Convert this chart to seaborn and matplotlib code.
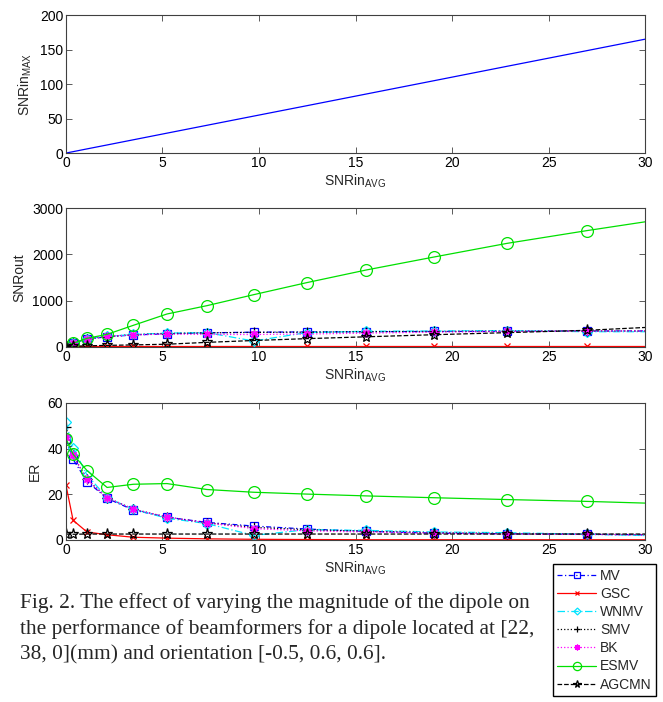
import numpy as np
import pandas as pd
import seaborn as sns
import matplotlib.pyplot as plt

# x positions (SNRin_AVG); last point lies past the axis limit and gets clipped
snr_avg = [0.0, 0.37, 1.09, 2.13, 3.49, 5.23, 7.30, 9.72, 12.46, 15.55, 19.06, 22.85, 26.97, 31.4]
snr_max = [0.0, 2.0, 6.0, 11.7, 19.2, 28.8, 40.2, 53.5, 68.5, 85.5, 104.8, 125.7, 148.3, 172.7]

# SNRout per beamformer
out_mv    = [10, 80, 170, 220, 260, 285, 305, 320, 325, 330, 335, 340, 345, 345]
out_gsc   = [15, 15, 15, 15, 15, 15, 15, 15, 15, 15, 15, 15, 15, 15]
out_wnmv  = [10, 90, 180, 230, 270, 300, 310, 130, 310, 340, 345, 355, 330, 330]
out_smv   = [10, 85, 175, 225, 265, 290, 305, 315, 320, 330, 335, 340, 345, 345]
out_bk    = [10, 80, 170, 230, 260, 280, 270, 270, 280, 300, 320, 335, 345, 345]
out_esmv  = [10, 80, 187, 273, 468, 712, 892, 1129, 1388, 1662, 1942, 2237, 2511, 2790]
out_agcmn = [5, 15, 25, 35, 45, 60, 100, 140, 180, 220, 265, 310, 360, 450]

# ER per beamformer
er_mv    = [44.0, 35.3, 25.6, 18.2, 13.1, 10.0, 7.7, 6.1, 4.8, 3.8, 3.0, 2.7, 2.5, 2.1]
er_gsc   = [24.0, 8.6, 3.5, 2.3, 1.2, 0.8, 0.5, 0.3, 0.2, 0.1, 0.1, 0.1, 0.1, 0.1]
er_wnmv  = [51.5, 40.4, 28.5, 18.5, 13.5, 9.5, 7.2, 2.0, 4.5, 4.2, 3.5, 3.2, 2.5, 1.7]
er_smv   = [49.6, 37.0, 26.5, 18.5, 13.5, 10.0, 7.5, 5.5, 4.5, 3.8, 3.2, 2.8, 2.5, 2.3]
er_bk    = [45.0, 37.0, 26.5, 18.5, 13.5, 10.0, 7.5, 5.0, 4.0, 3.5, 3.0, 2.7, 2.4, 2.2]
er_esmv  = [44.3, 37.5, 30.4, 23.0, 24.4, 24.7, 22.1, 20.9, 20.1, 19.3, 18.5, 17.7, 16.9, 15.8]
er_agcmn = [2.6, 2.5, 2.6, 2.6, 2.6, 2.6, 2.6, 2.6, 2.6, 2.6, 2.6, 2.6, 2.6, 2.6]

names = ['MV', 'GSC', 'WNMV', 'SMV', 'BK', 'ESMV', 'AGCMN']
snr_out = [out_mv, out_gsc, out_wnmv, out_smv, out_bk, out_esmv, out_agcmn]
er = [er_mv, er_gsc, er_wnmv, er_smv, er_bk, er_esmv, er_agcmn]

caption = ['Fig. 2. The effect of varying the magnitude of the dipole on',
           'the performance of beamformers for a dipole located at [22,',
           '38, 0](mm) and orientation [-0.5, 0.6, 0.6].']

styles = {
    'MV':    dict(color='#0000ff', linestyle=(0, (4, 2, 1, 2)), marker='s', ms=5.5),
    'GSC':   dict(color='#ff0000', linestyle='-', marker='x', ms=4.5),
    'WNMV':  dict(color='#00e5ff', linestyle=(0, (6, 2, 1, 2)), marker='D', ms=5),
    'SMV':   dict(color='#000000', linestyle=':', marker='+', ms=7),
    'BK':    dict(color='#ff00ff', linestyle=':', marker=(8, 2, 0), ms=6),
    'ESMV':  dict(color='#00e000', linestyle='-', marker='o', ms=8.5),
    'AGCMN': dict(color='#000000', linestyle='--', marker='*', ms=8),
}
for st in styles.values():
    st['mec'] = st['color']
    st['mfc'] = 'none'
    st['mew'] = 0.9

sns.set_style('ticks', {'xtick.direction': 'in', 'ytick.direction': 'in',
                        'axes.edgecolor': '#404040'})
plt.rcParams['font.family'] = ['Liberation Sans', 'DejaVu Sans']
plt.rcParams['font.size'] = 10
plt.rcParams['lines.linewidth'] = 0.9

fig = plt.figure(figsize=(6.63, 7.02), dpi=100)
left, width = 0.0995, 0.8735
ax1 = fig.add_axes([left, 0.782, width, 0.1966])
ax2 = fig.add_axes([left, 0.5057, width, 0.198])
ax3 = fig.add_axes([left, 0.2308, width, 0.1952])

sns.lineplot(x=snr_avg, y=snr_max, ax=ax1, color='#0000ff', linewidth=0.9)
ax1.set(xlim=(0, 30), ylim=(0, 200), xticks=range(0, 31, 5), yticks=range(0, 201, 50))
ax1.set_ylabel('SNRin$_{\\mathregular{MAX}}$')

for name, ys in zip(names, snr_out):
    sns.lineplot(x=snr_avg, y=ys, ax=ax2, label=name, sort=False, **styles[name])
ax2.set(xlim=(0, 30), ylim=(0, 3000), xticks=range(0, 31, 5), yticks=range(0, 3001, 1000))
ax2.set_ylabel('SNRout')

for name, ys in zip(names, er):
    sns.lineplot(x=snr_avg, y=ys, ax=ax3, label=name, sort=False, **styles[name])
ax3.set(xlim=(0, 30), ylim=(0, 60), xticks=range(0, 31, 5), yticks=range(0, 61, 20))
ax3.set_ylabel('ER')

for ax in (ax1, ax2, ax3):
    ax.set_xlabel('SNRin$_{\\mathregular{AVG}}$', labelpad=2)
    ax.tick_params(top=True, right=True, length=4, width=0.6, colors='#404040',
                   labelcolor='black', labelsize=10, pad=2)
    for s in ax.spines.values():
        s.set_linewidth(0.8)
    if ax.get_legend() is not None:
        ax.get_legend().remove()

handles, labels = ax3.get_legend_handles_labels()
fig.legend(handles, labels, loc='upper left', bbox_to_anchor=(0.834, 0.196),
           frameon=True, fancybox=False, edgecolor='black', framealpha=1,
           fontsize=10, handlelength=2.8, handletextpad=0.3, labelspacing=0.3,
           borderpad=0.3, borderaxespad=0, markerscale=0.7)

ys = [0.134, 0.097, 0.060]
for t, y in zip(caption, ys):
    fig.text(0.030, y, t, family=['Liberation Serif', 'DejaVu Serif'], fontsize=15.4,
             va='baseline', ha='left')

fig.savefig('out.png', dpi=100)
